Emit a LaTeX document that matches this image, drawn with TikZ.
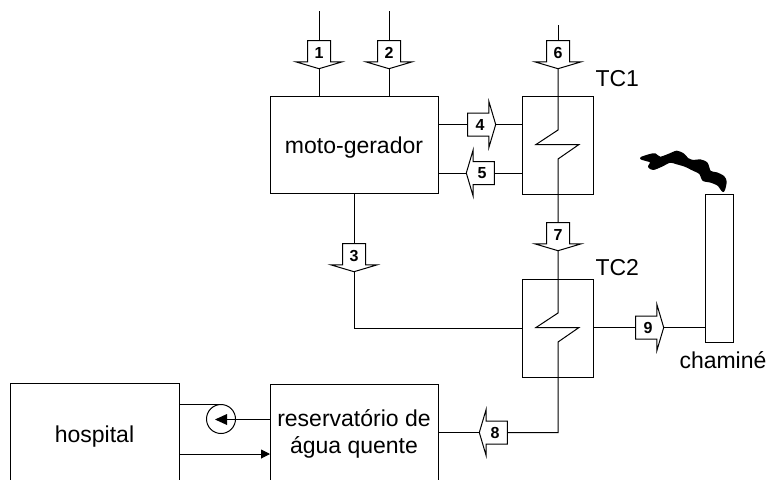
\documentclass[tikz,border=0pt]{standalone}
\usepackage{fontspec}
\setmainfont{Liberation Sans}
\usetikzlibrary{shapes.arrows,arrows.meta}
\tikzset{
    blockbox/.style={draw,rectangle,inner sep=0pt,outer sep=0pt,align=center,font=\fontsize{23}{27}\selectfont},
    flow/.style={draw,fill=white,single arrow,outer sep=0pt,minimum height=28pt,
        single arrow head extend=11.5pt,single arrow tip angle=147,
        font=\fontsize{16}{16}\selectfont\bfseries,text width=9pt,text height=11pt,text depth=0pt,align=center},
    flowdown/.style={flow,shape border rotate=270,inner xsep=6.5pt,inner ysep=2.5pt},
    flowright/.style={flow,shape border rotate=0,inner xsep=3.5pt,inner ysep=5.5pt},
    flowleft/.style={flow,shape border rotate=180,inner xsep=3.5pt,inner ysep=5.5pt},
    tag/.style={anchor=base west,inner sep=0pt,font=\fontsize{23}{27}\selectfont}
}
\begin{document}
\begin{tikzpicture}[x=1pt,y=-1pt,line width=1pt]
    \path[clip,use as bounding box] (0,0) rectangle (767,479);

    \node[blockbox,minimum width=168pt,minimum height=97pt,text height=20pt,text depth=3pt] (moto) at (354,144.5) {moto-gerador};
    \node[blockbox,minimum width=168pt,minimum height=99pt] (res) at (354,433.5) {reservatório de\\água quente};
    \node[blockbox,minimum width=169pt,minimum height=101pt,text height=20pt,text depth=3pt] (hospital) at (94.5,433.5) {hospital};
    \node[blockbox,minimum width=71pt,minimum height=98pt] (TC1) at (558,145) {};
    \node[blockbox,minimum width=71pt,minimum height=98pt] (TC2) at (558,328) {};
    \node[blockbox,minimum width=28pt,minimum height=148pt] (chimney) at (719,268) {};

    \node[flowdown] (f1) at (319,53) {1};
    \node[flowdown] (f2) at (389,53) {2};
    \node[flowdown] (f3) at (354,256) {3};
    \node[flowright] (f4) at (480,124.5) {4};
    \node[flowleft] (f5) at (482,173) {5};
    \node[flowdown] (f6) at (558,53) {6};
    \node[flowdown] (f7) at (558,235) {7};
    \node[flowleft] (f8) at (495,432.5) {8};
    \node[flowright] (f9) at (648,327.5) {9};

    \coordinate (in1) at (319,11);
    \coordinate (in2) at (389,11);
    \coordinate (in6) at (558,25);
    \coordinate (ret) at (179,454);

    \draw (in1) -- (f1.tail);
    \draw (f1.tip) -- (f1.tip |- moto.north);
    \draw (in2) -- (f2.tail);
    \draw (f2.tip) -- (f2.tip |- moto.north);
    \draw (f3.tail |- moto.south) -- (f3.tail);
    \draw (f3.tip) |- (TC2.west);
    \draw (moto.east |- f4.tail) -- (f4.tail);
    \draw (f4.tip) -- (f4.tip -| TC1.west);
    \draw (TC1.west |- f5.tail) -- (f5.tail);
    \draw (f5.tip) -- (f5.tip -| moto.east);

    % zig-zag inside the exchangers
    \draw (in6) -- (f6.tail);
    \draw (f6.tip) -- (558,130) -- (536,144.5) -- (579,144.5) -- (558,159) -- (f7.tail);
    \draw (f7.tip) -- (558,313) -- (536,327.5) -- (579,327.5) -- (558,342) -- (558,432.5) -- (f8.tail);
    \draw (f8.tip) -- (f8.tip -| res.east);
    \draw (TC2.east |- f9.tail) -- (f9.tail);
    \draw (f9.tip) -- (f9.tip -| chimney.west);

    % pump
    \node[draw,circle,minimum size=29pt,inner sep=0pt,outer sep=0pt] (pump) at (221,419) {};
    \draw (res.west |- pump.center) -- (pump.center);
    \fill (215,419.5) -- (227,414) -- (227,425) -- cycle;
    \draw (hospital.east |- pump.north) -- (pump.north);
    \draw[-{Triangle[length=9pt,width=9pt]}] (ret) -- (ret -| res.west);

    % smoke
    \filldraw[line width=2pt,line join=round] plot[smooth cycle,tension=0.45] coordinates {(641,158.3) (650,155) (655,154.3) (660,157.7) (668.3,155) (676.7,151.7) (683.3,154.3) (687.7,159) (693.3,161) (700,160.3) (706.7,163.3) (710,171.7) (716.7,173.3) (723.3,176.7) (725.7,181.7) (723.3,191) (718.3,185) (711,181.7) (703.3,180) (700,173.3) (691.7,169) (685,165.7) (676.7,163.3) (670,161.7) (661.7,165.7) (653.3,169) (649,166.7) (651,161.7)};

    \node[tag] (lTC1) at (595,86) {TC1};
    \node[tag] (lTC2) at (595,275) {TC2};
    \node[tag] (lchimney) at (679,368) {chaminé};
\end{tikzpicture}
\end{document}
